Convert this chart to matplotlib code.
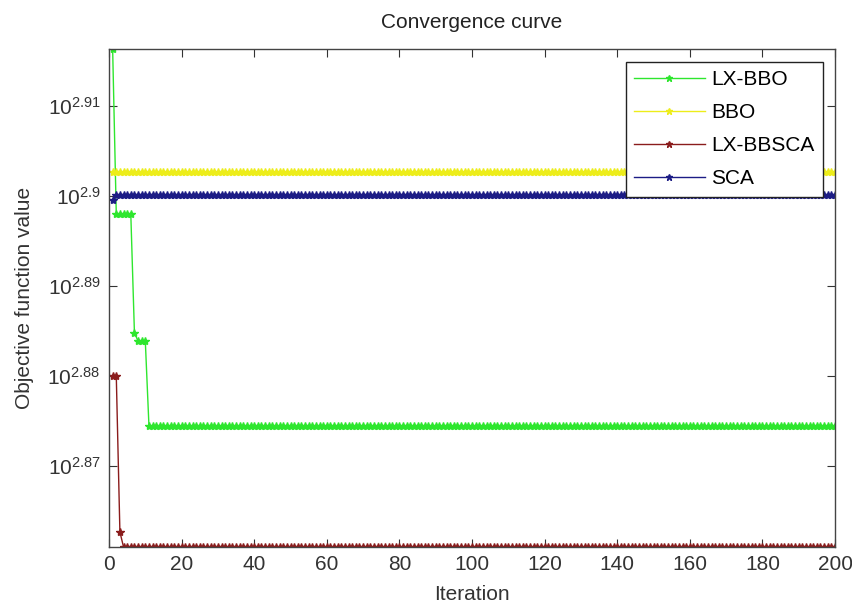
import numpy as np
import matplotlib
matplotlib.use('Agg')
import matplotlib.pyplot as plt

plt.rcParams['font.family'] = ['Liberation Sans', 'DejaVu Sans']
plt.rcParams['mathtext.fontset'] = 'custom'
plt.rcParams['mathtext.rm'] = 'Liberation Sans'
plt.rcParams['mathtext.it'] = 'Liberation Sans'

# piecewise-constant curves: (value, number of iterations)
lx_bbo_values = [824.8, 790.7, 767.0, 765.3, 748.9]
lx_bbo_runs = [1, 5, 1, 3, 190]
bbo_values = [799.3]
bbo_runs = [200]
lx_bbsca_values = [758.6, 758.6, 728.8, 726.0]
lx_bbsca_runs = [1, 1, 1, 197]
sca_values = [793.5, 794.6]
sca_runs = [1, 199]

labels = ['LX-BBO', 'BBO', 'LX-BBSCA', 'SCA']
colors = ['#2ee62e', '#eded1a', '#8a1c1c', '#1c1c85']
yticks_exp = [2.87, 2.88, 2.89, 2.9, 2.91]
ytick_labels = ['$10^{2.87}$', '$10^{2.88}$', '$10^{2.89}$', '$10^{2.9}$', '$10^{2.91}$']
xticks = list(range(0, 201, 20))

series = [
    np.repeat(lx_bbo_values, lx_bbo_runs),
    np.repeat(bbo_values, bbo_runs),
    np.repeat(lx_bbsca_values, lx_bbsca_runs),
    np.repeat(sca_values, sca_runs),
]

fig = plt.figure(figsize=(8.53, 6.06), dpi=100)
ax = fig.add_axes([0.1278, 0.0974, 0.8511, 0.8217])

it = np.arange(1, 201)
for y, lab, c in zip(series, labels, colors):
    ax.plot(it, y, color=c, lw=1, marker='*', ms=6, label=lab)

ax.set_yscale('log')
ax.set_xlim(0, 200)
ax.set_ylim(lx_bbsca_values[-1], lx_bbo_values[0])
ax.set_xticks(xticks)
ax.set_yticks([10 ** e for e in yticks_exp])
ax.set_yticklabels(ytick_labels)
ax.yaxis.set_minor_locator(matplotlib.ticker.NullLocator())
ax.tick_params(direction='in', top=True, right=True, labelsize=15, length=6,
               color='#333333', labelcolor='#333333', pad=6)
for s in ax.spines.values():
    s.set_color('#444444')
    s.set_linewidth(1)

ax.set_title('Convergence curve', fontsize=15, color='#222222', pad=15)
ax.set_xlabel('Iteration', fontsize=15, color='#333333', labelpad=8)
ax.set_ylabel('Objective function value', fontsize=15, color='#333333', labelpad=10)

leg = ax.legend(loc='upper right', fontsize=15, fancybox=False, framealpha=1,
                edgecolor='#222222', handlelength=3.4, labelspacing=0.68,
                borderaxespad=0.6, handletextpad=0.3, markerscale=0.8)
leg.get_frame().set_linewidth(1)

fig.savefig('out.png', dpi=100, facecolor='white')
